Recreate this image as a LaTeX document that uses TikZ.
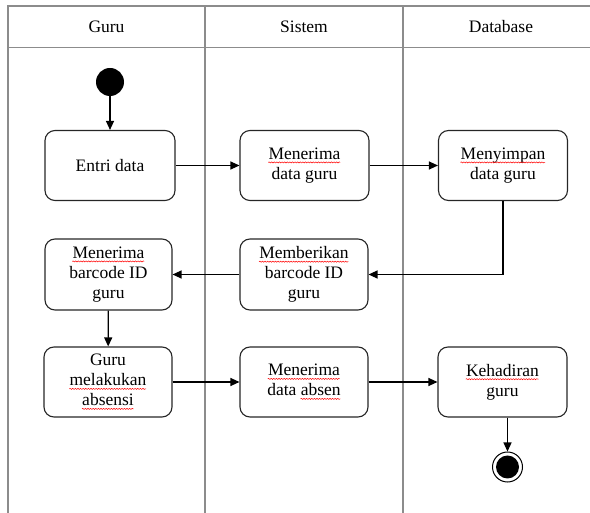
\documentclass[tikz,border=0pt]{standalone}
\usepackage{fontspec}
\setmainfont{Liberation Serif}
\usetikzlibrary{arrows.meta,decorations.pathmorphing}
\newsavebox\sqbox
\newcommand\sq[1]{\sbox\sqbox{#1}\usebox\sqbox\llap{\tikz[baseline=0pt,x=1pt,y=1pt]{\draw[red, line width=0.5pt, rounded corners=0pt, decorate, decoration={snake, amplitude=0.55pt, segment length=2.6pt}] (0,-3) -- (\wd\sqbox,-3);}}}
\definecolor{lanegray}{RGB}{140,140,140}
\tikzset{
  lane/.style={draw=lanegray, line width=1.6pt},
  act/.style={draw=black!85, line width=1.1pt, rounded corners=10pt, minimum width=129pt, minimum height=70pt, align=center, inner sep=2pt, font=\fontsize{17.5}{20}\selectfont},
  hdr/.style={font=\fontsize{17.5}{20}\selectfont},
  flow/.style={draw=black, line width=1.2pt, -{Triangle[length=9pt,width=8pt]}},
}
\begin{document}
\begin{tikzpicture}[x=1pt,y=-1pt]
\useasboundingbox (0,0) rectangle (590,513);
% swimlane frame
\draw[lane] (8,513) -- (8,6) -- (590,6);
\draw[lane] (8,47.5) -- (590,47.5);
\draw[lane] (205,6) -- (205,513);
\draw[lane] (403,6) -- (403,513);
\node[hdr] (hg) at (106.5,27) {Guru};
\node[hdr] (hs) at (304,27) {Sistem};
\node[hdr] (hd) at (501,27) {Database};
% start / end
\node[circle, fill=black, minimum size=28pt, inner sep=0pt] (start) at (110,82) {};
\node[circle, draw=black, line width=1pt, minimum size=30pt, inner sep=0pt] (endo) at (507.5,467) {};
\node[circle, fill=black, minimum size=23pt, inner sep=0pt] (endi) at (507.5,467) {};
% activities
\node[act, minimum width=130pt] (ed) at (110,165.5) {Entri data};
\node[act] (mdg) at (304.5,165.5) {\sq{Menerima}\\data guru};
\node[act] (mpd) at (503,165.5) {\sq{Menyimpan}\\data guru};
\node[act, minimum width=127pt, minimum height=71pt] (mbi) at (108.5,274.5) {\sq{Menerima}\\barcode ID\\guru};
\node[act, minimum width=128pt, minimum height=71pt] (mbk) at (304,274.5) {\sq{Memberikan}\\barcode ID\\guru};
\node[act, minimum width=128pt] (gma) at (108,382) {Guru\\\sq{melakukan}\\\sq{absensi}};
\node[act, minimum width=128pt] (mda) at (304,382) {\sq{Menerima}\\data \sq{absen}};
\node[act] (kh) at (502.5,382) {\sq{Kehadiran}\\guru};
% flows
\draw[flow] (start) -- (ed);
\draw[flow] (ed) -- (mdg);
\draw[flow] (mdg) -- (mpd);
\draw[flow] (mpd.south) |- (mbk.east);
\draw[flow] (mbk) -- (mbi);
\draw[flow] (mbi) -- (gma);
\draw[flow] (gma) -- (mda);
\draw[flow] (mda) -- (kh);
\draw[flow] (endo |- kh.south) -- (endo.north);
\end{tikzpicture}
\end{document}
